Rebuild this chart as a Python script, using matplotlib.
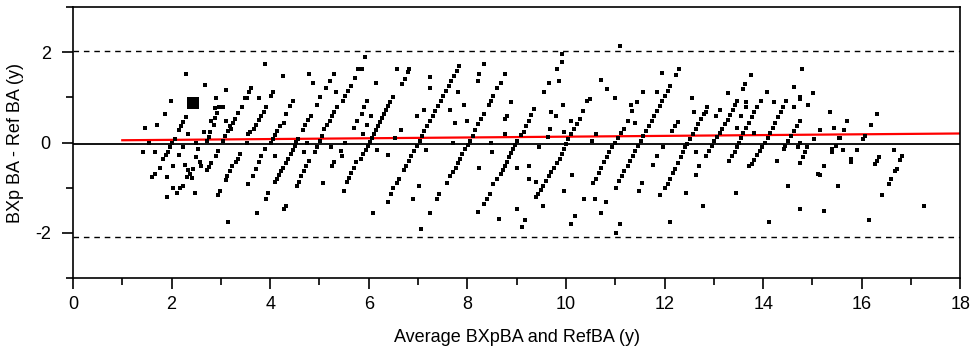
import numpy as np
import matplotlib
matplotlib.use("Agg")
import matplotlib.pyplot as plt
from matplotlib.ticker import MultipleLocator

plt.rcParams['font.family'] = ['Liberation Sans Narrow', 'Liberation Sans', 'DejaVu Sans']
plt.rcParams['axes.unicode_minus'] = False

# --- DATA (average, difference) ---
pts_a = [  # average 1 - 3.5 y
    (2.30, 1.53), (2.67, 1.28), (3.11, 1.17), (1.99, 0.93), (2.91, 0.98), (3.48, 0.98),
    (1.87, 0.64), (2.29, 0.56), (2.23, 0.46), (2.19, 0.37), (2.15, 0.28), (1.46, 0.33),
    (1.71, 0.39), (2.34, 0.18), (2.88, 0.76), (2.96, 0.78), (3.04, 0.78), (2.92, 0.65),
    (2.88, 0.55), (2.80, 0.48), (2.87, 0.39), (2.65, 0.24), (2.77, 0.24), (2.75, 0.13),
    (2.72, 0.04), (3.11, 0.48), (3.18, 0.36), (3.15, 0.26), (3.08, 0.15), (3.04, 0.04),
    (3.42, 0.78), (3.35, 0.65), (3.29, 0.53), (3.25, 0.43), (3.21, 0.31), (2.06, 0.07),
    (2.00, -0.01), (1.96, -0.11), (1.92, -0.21), (1.88, -0.28), (1.83, -0.37), (1.55, 0.00),
    (1.42, -0.22), (1.67, -0.22), (2.23, -0.11), (2.15, -0.27), (2.50, 0.00), (2.54, -0.15),
    (2.50, -0.33), (2.58, -0.44), (2.60, -0.53), (2.03, -0.52), (1.76, -0.56), (1.67, -0.69),
    (1.61, -0.76), (1.91, -0.76), (2.27, -0.50), (2.34, -0.61), (2.37, -0.70), (2.32, -0.77),
    (2.44, -0.59), (2.42, -0.79), (2.80, -0.46), (2.75, -0.55), (2.71, -0.62), (2.94, -0.19),
    (2.90, -0.30), (3.38, -0.25), (3.34, -0.36), (3.30, -0.44), (3.22, -0.53), (3.18, -0.64),
    (3.13, -0.74), (3.10, -0.83), (2.98, -1.07), (2.94, -1.17), (2.23, -0.96), (2.18, -1.02),
    (2.11, -1.11), (2.03, -1.01), (1.91, -1.21), (2.47, -1.11), (3.14, -1.76),
]

pts_b = [  # average 3.5 - 5.8 y
    (3.90, 1.74), (4.26, 1.48), (4.78, 1.53), (4.87, 1.33), (5.29, 1.53), (5.22, 1.37),
    (5.14, 1.22), (5.79, 1.63), (5.72, 1.42), (5.64, 1.26), (5.58, 1.15), (5.51, 1.04),
    (5.47, 0.93), (5.34, 1.11), (3.62, 1.22), (3.58, 1.11), (3.52, 0.98), (3.78, 0.98),
    (4.06, 1.13), (4.02, 1.04), (3.91, 0.78), (3.87, 0.68), (3.82, 0.59), (3.78, 0.50),
    (3.72, 0.39), (3.67, 0.31), (3.59, 0.24), (3.55, 0.19), (4.46, 0.93), (4.40, 0.81),
    (4.33, 0.63), (4.28, 0.44), (4.20, 0.36), (4.14, 0.26), (4.10, 0.16), (4.06, 0.07),
    (4.02, -0.01), (5.02, 1.00), (4.94, 0.83), (4.82, 0.58), (4.76, 0.50), (4.71, 0.39),
    (4.67, 0.28), (4.56, 0.07), (4.53, 0.01), (4.74, 0.00), (4.68, -0.21), (4.50, -0.07),
    (4.46, -0.16), (4.43, -0.26), (4.37, -0.36), (4.32, -0.46), (4.27, -0.56), (4.22, -0.63),
    (4.17, -0.73), (4.13, -0.81), (4.09, -0.87), (4.10, -0.31), (3.90, -0.15), (3.82, -0.30),
    (3.77, -0.43), (3.71, -0.58), (3.66, -0.74), (3.56, -0.93), (3.54, -0.01), (3.95, -1.13),
    (3.91, -1.26), (3.74, -1.56), (4.32, -1.41), (4.28, -1.48), (4.78, -0.41), (4.73, -0.52),
    (4.68, -0.63), (4.63, -0.74), (4.58, -0.87), (4.54, -0.96), (5.10, 0.30), (5.16, 0.39),
    (5.21, 0.48), (5.25, 0.58), (5.30, 0.68), (5.36, 0.78), (5.06, 0.15), (5.01, 0.04),
    (4.95, -0.09), (4.90, -0.21), (5.24, -0.09), (5.52, 0.00), (5.44, -0.19), (5.45, -0.31),
    (5.29, -0.43), (5.26, -0.52), (5.08, -0.89), (5.71, 0.33), (5.76, 0.48), (5.74, -0.44),
    (5.70, -0.56), (5.64, -0.67), (5.59, -0.78), (5.55, -0.87), (5.49, -1.07),
]

pts_c = [  # average 5.8 - 8.1 y
    (5.93, 1.89), (5.86, 1.63), (6.57, 1.63), (6.81, 1.63), (6.79, 1.56), (6.73, 1.41),
    (6.67, 1.30), (6.15, 1.33), (5.97, 0.93), (5.90, 0.78), (5.86, 0.63), (6.05, 0.58),
    (5.97, 0.39), (5.88, 0.19), (6.49, 1.00), (6.43, 0.90), (6.39, 0.81), (6.35, 0.73),
    (6.31, 0.64), (6.27, 0.55), (6.23, 0.46), (6.19, 0.37), (6.15, 0.28), (6.11, 0.19),
    (6.07, 0.10), (6.03, 0.01), (5.99, -0.07), (5.95, -0.16), (5.89, -0.26), (5.84, -0.36),
    (6.54, 0.09), (6.66, 0.28), (6.17, -0.16), (6.38, -0.28), (7.84, 1.70), (7.78, 1.59),
    (7.73, 1.48), (7.67, 1.37), (7.62, 1.26), (7.57, 1.15), (7.51, 1.04), (7.46, 0.93),
    (7.40, 0.81), (7.35, 0.70), (7.30, 0.59), (7.24, 0.48), (7.19, 0.37), (7.13, 0.26),
    (7.08, 0.15), (7.03, 0.04), (6.97, -0.07), (6.92, -0.19), (6.86, -0.30), (6.81, -0.41),
    (6.76, -0.52), (6.72, -0.61), (7.25, 1.45), (7.25, 1.21), (7.13, 0.73), (6.97, 0.58),
    (7.17, -0.16), (6.62, -0.81), (6.57, -0.90), (6.50, -1.02), (6.46, -1.15), (6.38, -1.32),
    (6.09, -1.56), (7.01, -0.96), (6.89, -1.26), (7.05, -1.91), (7.25, -1.56), (7.38, -1.26),
    (7.43, -1.15), (7.81, 1.11), (7.65, 0.73), (7.93, 0.83), (7.74, 0.43), (8.00, 0.48),
    (7.71, -0.01), (8.11, 0.15), (8.05, 0.04), (8.01, -0.06), (7.96, -0.15), (7.90, -0.26),
    (7.85, -0.36), (7.80, -0.46), (7.76, -0.56), (7.70, -0.65), (7.65, -0.74), (7.58, -0.90),
]

pts_d = [  # average 8.1 - 10.5 y
    (8.33, 1.74), (8.23, 1.52), (8.22, 1.37), (8.77, 1.53), (8.68, 1.33), (8.61, 1.22),
    (8.53, 1.04), (8.48, 0.93), (8.44, 0.83), (8.34, 0.63), (8.27, 0.52), (8.22, 0.41),
    (8.16, 0.28), (8.89, 0.89), (8.80, 0.58), (8.77, 0.52), (8.76, 0.19), (9.35, 0.74),
    (9.30, 0.61), (9.25, 0.48), (9.19, 0.37), (9.14, 0.24), (9.08, 0.16), (9.00, 0.04),
    (8.96, -0.06), (8.92, -0.15), (8.88, -0.24), (8.84, -0.33), (8.80, -0.43), (8.76, -0.52),
    (8.72, -0.61), (8.68, -0.70), (8.61, -0.81), (8.53, -0.93), (8.45, -1.15), (8.40, -1.26),
    (8.34, -1.37), (8.22, -1.54), (8.48, 0.00), (8.49, -0.22), (8.23, -0.56), (8.65, -1.70),
    (9.00, -0.56), (9.25, -0.52), (9.25, -0.81), (9.39, -0.87), (9.00, -1.47), (9.16, -1.72),
    (9.10, -1.87), (9.45, -0.11), (9.53, -1.41), (9.91, 1.96), (9.92, 1.78), (9.81, 1.63),
    (9.85, 1.37), (9.65, 1.33), (9.56, 1.11), (9.69, 0.68), (9.80, 0.58), (9.93, 0.83),
    (9.68, 0.31), (9.64, 0.13), (9.96, 0.24), (10.28, 0.52), (10.22, 0.41), (10.16, 0.30),
    (10.11, 0.19), (10.04, 0.07), (10.00, -0.04), (9.96, -0.15), (9.92, -0.26), (9.87, -0.37),
    (9.81, -0.46), (9.76, -0.56), (9.70, -0.65), (9.65, -0.74), (9.60, -0.85), (9.54, -0.96),
    (9.49, -1.05), (9.43, -1.15), (9.39, -1.22), (10.10, 0.48), (10.34, 0.70), (10.43, 0.93),
    (9.96, -1.07), (10.12, -0.73), (10.37, -1.26), (10.18, -1.63), (10.10, -1.81),
]

pts_e = [  # average 10.5 - 12.8 y
    (11.09, 2.15), (10.72, 1.39), (10.84, 1.19), (10.99, 0.98), (10.48, 0.96), (11.32, 0.83),
    (11.44, 0.89), (11.34, 0.70), (11.25, 0.48), (11.41, 0.44), (11.56, 1.11), (11.95, 1.54),
    (12.23, 1.50), (12.30, 1.63), (11.84, 1.13), (12.11, 1.26), (12.06, 1.15), (12.00, 1.04),
    (11.95, 0.93), (11.90, 0.81), (11.84, 0.70), (11.79, 0.59), (11.74, 0.48), (11.68, 0.37),
    (11.63, 0.26), (11.57, 0.15), (11.52, 0.04), (11.47, -0.07), (11.41, -0.19), (11.36, -0.30),
    (11.30, -0.41), (11.25, -0.52), (11.18, -0.63), (11.13, -0.74), (11.07, -0.85), (11.01, -1.00),
    (11.17, 0.30), (11.11, 0.21), (11.06, 0.11), (10.99, 0.00), (10.94, -0.11), (10.88, -0.22),
    (10.83, -0.33), (10.78, -0.44), (10.72, -0.56), (10.67, -0.67), (10.60, -0.80), (10.55, -0.90),
    (10.60, 0.19), (10.52, 0.04), (10.59, -1.26), (10.82, -1.33), (10.72, -1.56), (11.09, -1.81),
    (11.01, -2.00), (11.55, -0.90), (11.48, -1.07), (11.84, -0.30), (11.76, -0.50), (11.96, -0.11),
    (12.28, 0.46), (12.21, 0.36), (12.15, 0.26), (12.42, -0.11), (12.38, -0.22), (12.33, -0.33),
    (12.28, -0.46), (12.22, -0.58), (12.17, -0.68), (12.11, -0.80), (12.06, -0.91), (12.01, -1.01),
    (11.91, -1.17), (12.79, 0.63), (12.73, 0.52), (12.68, 0.41), (12.63, 0.30), (12.57, 0.19),
    (12.52, 0.07), (12.46, -0.04), (12.56, 0.98), (12.60, 0.68), (12.64, -0.22), (12.69, -0.53),
    (12.64, -0.73), (12.44, -1.13), (12.11, -1.76), (12.77, -1.41),
]

pts_f = [  # average 12.8 - 15.1 y
    (13.75, 1.50), (13.63, 1.30), (13.59, 1.19), (13.28, 1.10), (14.79, 1.64), (14.63, 1.24),
    (14.75, 1.02), (14.75, 0.96), (15.02, 1.10), (14.90, 0.83), (14.08, 1.13), (13.96, 0.93),
    (14.21, 0.89), (14.47, 0.93), (14.62, 0.78), (13.47, 0.93), (13.43, 0.83), (13.39, 0.73),
    (13.33, 0.61), (13.28, 0.50), (13.23, 0.41), (13.17, 0.31), (13.12, 0.22), (13.06, 0.13),
    (13.01, 0.04), (12.96, -0.07), (12.90, -0.19), (12.85, -0.30), (13.12, 0.73), (13.04, 0.59),
    (12.87, 0.78), (12.85, 0.67), (13.65, 0.89), (13.66, 0.78), (13.55, 0.59), (13.87, 0.78),
    (13.82, 0.67), (13.77, 0.56), (13.71, 0.44), (13.66, 0.33), (13.60, 0.22), (13.55, 0.11),
    (13.50, 0.00), (13.46, -0.11), (13.42, -0.22), (13.36, -0.31), (13.31, -0.41), (13.47, 0.33),
    (13.82, 0.21), (14.41, 0.78), (14.36, 0.67), (14.31, 0.56), (14.25, 0.44), (14.20, 0.33),
    (14.14, 0.22), (14.09, 0.11), (14.04, 0.00), (13.98, -0.09), (13.93, -0.19), (13.87, -0.28),
    (13.82, -0.38), (13.77, -0.47), (13.71, -0.53), (14.28, -0.41), (14.75, 0.48), (14.68, 0.36),
    (14.62, 0.26), (14.56, 0.15), (14.51, 0.04), (14.45, -0.07), (14.43, -0.15), (14.75, 0.00),
    (14.71, -0.09), (14.89, -0.11), (14.85, -0.22), (14.81, -0.33), (14.75, -0.46), (15.03, 0.07),
    (13.44, -1.11), (14.51, -0.96), (14.75, -1.47), (14.11, -1.76), (15.12, -0.70),
]

pts_g = [  # average 15.1 - 17.5 y
    (15.35, 0.68), (15.43, 0.33), (15.15, 0.28), (15.63, 0.28), (15.71, 0.48), (15.53, 0.09),
    (15.55, 0.09), (15.39, -0.15), (15.39, -0.22), (15.47, -0.07), (15.62, -0.16), (15.78, -0.36),
    (15.78, -0.43), (15.90, -0.16), (16.03, 0.07), (16.07, 0.15), (16.19, 0.39), (16.31, 0.63),
    (15.23, -0.52), (15.15, -0.73), (15.51, -0.96), (15.23, -1.52), (16.15, -1.72), (16.34, -0.33),
    (16.30, -0.41), (16.26, -0.48), (16.66, -0.16), (16.82, -0.31), (16.78, -0.39), (16.71, -0.58),
    (16.67, -0.64), (16.59, -0.81), (16.55, -0.93), (16.42, -1.17), (17.27, -1.41),
]

# highlighted point
big_avg, big_diff = 2.43, 0.87

# mean difference and limits of agreement
mean_diff = -0.04
upper_loa = 2.02
lower_loa = -2.1

# red trend line
trend_x = [1.0, 18.0]
trend_y = [0.05, 0.2]

# --- PLOT ---
fig = plt.figure(figsize=(9.73, 3.64), dpi=100)
ax = fig.add_axes([0.075, 0.237, 0.912, 0.743])

all_pts = np.array(pts_a + pts_b + pts_c + pts_d + pts_e + pts_f + pts_g)
ax.scatter(all_pts[:, 0], all_pts[:, 1], s=9, marker='s', color='black', linewidths=0, zorder=3)
ax.scatter([big_avg], [big_diff], s=70, marker='s', color='black', linewidths=0, zorder=4)

ax.axhline(mean_diff, color='black', linewidth=1.3, zorder=2)
ax.axhline(upper_loa, color='black', linewidth=1.0, linestyle=(0, (4, 3.5)), zorder=2)
ax.axhline(lower_loa, color='black', linewidth=1.0, linestyle=(0, (4, 3.5)), zorder=2)
ax.plot(trend_x, trend_y, color='red', linewidth=1.6, zorder=2)

ax.set_xlim(0, 18)
ax.set_ylim(-3, 3)
ax.set_xticks(np.arange(0, 19, 2))
ax.xaxis.set_minor_locator(MultipleLocator(1))
ax.set_yticks([-2, 0, 2])
ax.yaxis.set_minor_locator(MultipleLocator(1))
ax.tick_params(which='major', length=8, width=1.2, labelsize=13, colors='black')
ax.tick_params(which='minor', length=5, width=1.2)
ax.tick_params(axis='y', pad=8)
ax.tick_params(axis='x', pad=5)

for sp in ax.spines.values():
    sp.set_linewidth(1.2)

ax.set_xlabel('Average BXpBA and RefBA (y)', fontsize=13, labelpad=12)
ax.set_ylabel('BXp BA - Ref BA (y)', fontsize=13, labelpad=8)

fig.savefig('out.png', dpi=100)
